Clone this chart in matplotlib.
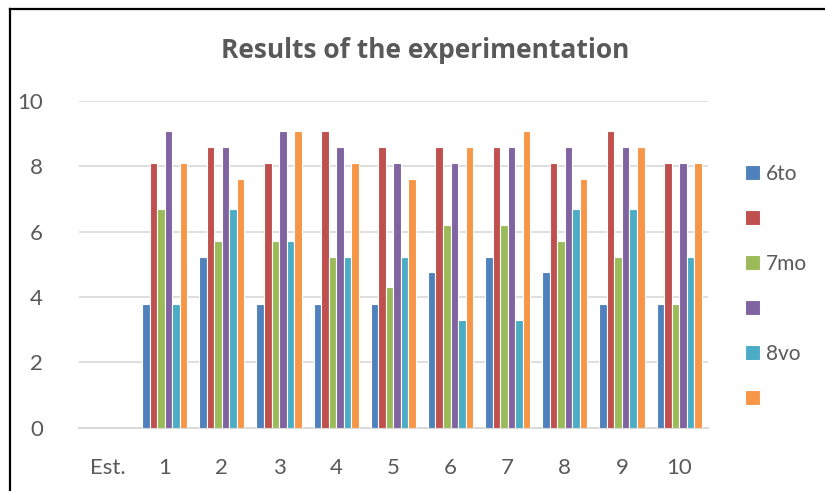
import numpy as np
import matplotlib
matplotlib.use("Agg")
import matplotlib.pyplot as plt
from matplotlib.lines import Line2D

plt.rcParams['font.family'] = ['Lato', 'DejaVu Sans']

categories = ["Est.", "1", "2", "3", "4", "5", "6", "7", "8", "9", "10"]
series_labels = ["6to", " ", "7mo", " ", "8vo", " "]
s_blue = [np.nan, 3.8, 5.24, 3.8, 3.8, 3.8, 4.76, 5.24, 4.76, 3.8, 3.8]
s_red = [np.nan, 8.1, 8.58, 8.1, 9.08, 8.58, 8.58, 8.58, 8.1, 9.08, 8.1]
s_green = [np.nan, 6.7, 5.7, 5.7, 5.24, 4.3, 6.2, 6.2, 5.7, 5.24, 3.8]
s_purple = [np.nan, 9.08, 8.58, 9.08, 8.58, 8.1, 8.1, 8.58, 8.58, 8.58, 8.1]
s_teal = [np.nan, 3.8, 6.7, 5.7, 5.24, 5.24, 3.3, 3.3, 6.7, 6.7, 5.24]
s_orange = [np.nan, 8.1, 7.6, 9.08, 8.1, 7.6, 8.58, 9.08, 7.6, 8.58, 8.1]
y_ticks = [0, 2, 4, 6, 8, 10]

series = [s_blue, s_red, s_green, s_purple, s_teal, s_orange]
colors = ["#4F81BD", "#C0504D", "#9BBB59", "#8064A2", "#4BACC6", "#F79646"]
text_color = "#595959"
grid_color = "#D9D9D9"

fig = plt.figure(figsize=(8.25, 4.91), dpi=100)
ax = fig.add_axes([79/825, 1 - 427.7/491, (707.7 - 79)/825, (427.7 - 101)/491])

x = np.arange(len(categories))
group_w = 0.79
bw = group_w / len(series)
handles = []
for i, (vals, c) in enumerate(zip(series, colors)):
    offs = -group_w/2 + bw*(i + 0.5)
    b = ax.bar(x + offs, vals, width=bw, color=c, edgecolor="white", linewidth=0.8, zorder=3)
    handles.append(b)

ax.set_xlim(-0.5, len(categories) - 0.5)
ax.set_ylim(0, 10)
ax.set_yticks(y_ticks)
ax.set_yticklabels([str(t) for t in y_ticks])
ax.set_xticks(x)
ax.set_xticklabels(categories)
ax.yaxis.grid(True, color=grid_color, linewidth=1.2, zorder=0)
ax.set_axisbelow(True)
for s in ["top", "right", "left"]:
    ax.spines[s].set_visible(False)
ax.spines["bottom"].set_color(grid_color)
ax.spines["bottom"].set_linewidth(1.4)
ax.tick_params(axis="both", length=0, colors=text_color, labelsize=16)
ax.tick_params(axis="y", pad=26)
ax.tick_params(axis="x", pad=22)

fig.text(425/825, 1 - 50/491, "Results of the experimentation", ha="center", va="center",
         fontsize=19, fontweight="bold", color=text_color, family=["Open Sans", "DejaVu Sans"])

leg = ax.legend(handles, series_labels, loc="upper left", bbox_to_anchor=(745/825, 1 - 164/491),
                bbox_transform=fig.transFigure, frameon=False, fontsize=15,
                handlelength=0.7, handleheight=0.7, handletextpad=0.3, labelspacing=1.2,
                borderaxespad=0, borderpad=0)
for t in leg.get_texts():
    t.set_color(text_color)

# outer frame (top and left visible)
fig.add_artist(Line2D([9.5/825, 9.5/825], [0, 1 - 8.5/491], transform=fig.transFigure, color="black", lw=1.6))
fig.add_artist(Line2D([9.5/825, 1], [1 - 8.5/491, 1 - 8.5/491], transform=fig.transFigure, color="black", lw=1.6))

fig.savefig("out.png", dpi=100)
